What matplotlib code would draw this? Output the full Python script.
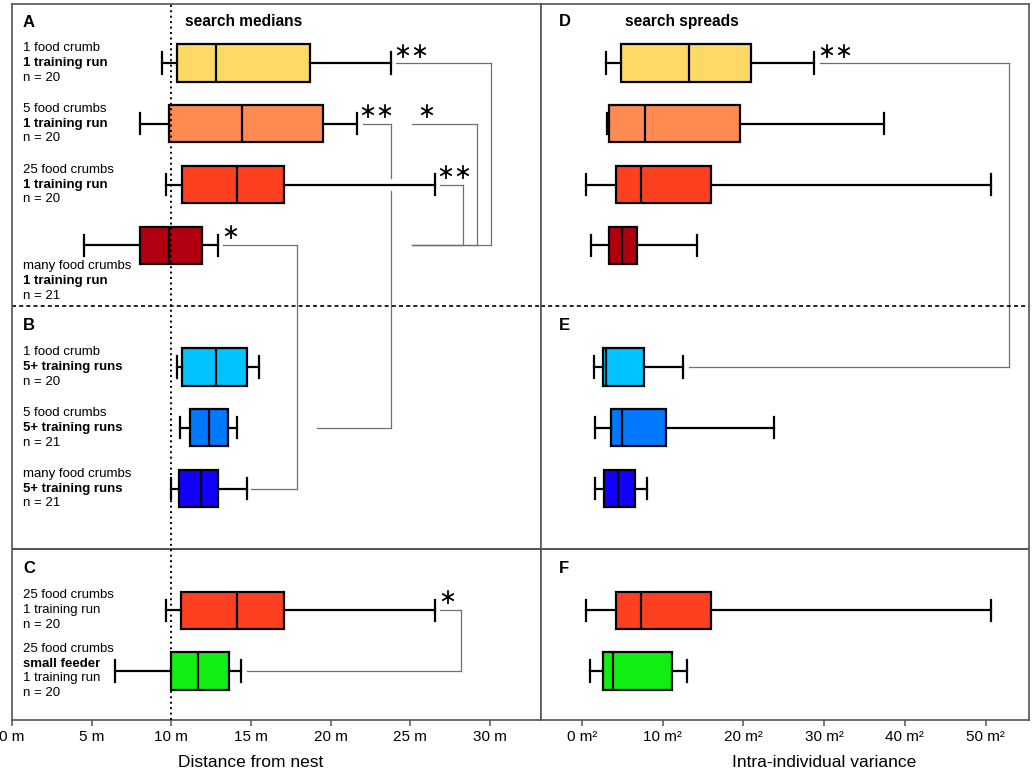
import matplotlib
matplotlib.use("Agg")
import matplotlib.pyplot as plt
import matplotlib.transforms as mtransforms

plt.rcParams['font.family'] = ['Liberation Sans', 'DejaVu Sans']

# 每一行的位置（A: 0-3, B: 5-7, C: 9-10）
rows = [0, 1, 2, 3, 5, 6, 7, 9, 10]
colors = ["#FFD966", "#FF8B52", "#FF4020", "#B00010",
          "#00C3FF", "#0078FF", "#1100FF", "#FF4020", "#11EE11"]

row_text = [
    ["1 food crumb", "1 training run", "n = 20"],
    ["5 food crumbs", "1 training run", "n = 20"],
    ["25 food crumbs", "1 training run", "n = 20"],
    ["many food crumbs", "1 training run", "n = 21"],
    ["1 food crumb", "5+ training runs", "n = 20"],
    ["5 food crumbs", "5+ training runs", "n = 21"],
    ["many food crumbs", "5+ training runs", "n = 21"],
    ["25 food crumbs", "1 training run", "n = 20"],
    ["25 food crumbs", "small feeder", "1 training run", "n = 20"],
]
row_bold = [[0, 1, 0]] * 7 + [[0, 0, 0], [0, 1, 0, 0]]
label_rows = [0, 1, 2, 3.585, 5, 6, 7, 9, 10]

# search medians (m)
dist_whislo = [9.41, 8.04, 9.64, 4.52, 10.35, 10.52, 9.95, 9.64, 6.47]
dist_q1 = [10.37, 9.85, 10.64, 8.04, 10.67, 11.15, 10.48, 10.62, 9.99]
dist_med = [12.81, 14.45, 14.15, 9.87, 12.83, 12.34, 11.88, 14.13, 11.65]
dist_q3 = [18.7, 19.5, 17.09, 11.95, 14.72, 13.56, 12.93, 17.09, 13.63]
dist_whishi = [23.79, 21.64, 26.56, 12.91, 15.51, 14.09, 14.72, 26.56, 14.38]

# search spreads (m²)
var_whislo = [3.05, 3.09, 0.49, 1.11, 1.48, 1.61, 1.69, 0.49, 1.03]
var_q1 = [4.86, 3.42, 4.24, 3.38, 2.64, 3.67, 2.72, 4.28, 2.64]
var_med = [13.32, 7.83, 7.3, 4.99, 3.01, 5.03, 4.53, 7.3, 3.87]
var_q3 = [20.99, 19.55, 16.0, 6.88, 7.67, 10.4, 6.64, 16.0, 11.21]
var_whishi = [28.75, 37.38, 50.7, 14.23, 12.58, 23.8, 8.08, 50.7, 13.03]

# 显著性连线: (x 起点, 起始行, x 拐点, 结束行, x 终点)
brackets_left = [
    (24.1, 0, 30.08, 3, 25.09),
    (25.09, 1, 29.2, 3, 25.09),
    (26.89, 2, 28.3, 3, 25.09),
    (22.0, 1, 23.79, 6, 19.17),
    (13.25, 3, 17.87, 7, 15.01),
    (26.89, 9, 28.19, 10, 14.72),
]
brackets_right = [(29.49, 0, 52.92, 5, 13.24)]
stars_left = [("∗∗", 25.05, -0.18), ("∗∗", 22.85, 0.81), ("∗", 26.0, 0.81),
              ("∗∗", 27.75, 1.81), ("∗", 13.68, 2.80), ("∗", 27.3, 8.8)]
stars_right = [("∗∗", 31.4, -0.18)]

dist_ticks = [0, 5, 10, 15, 20, 25, 30]
var_ticks = [0, 10, 20, 30, 40, 50]

W, H = 1034, 771
fig = plt.figure(figsize=(W / 100, H / 100), dpi=100)
ax_l = fig.add_axes([12 / W, (H - 720) / H, 529 / W, 716 / H])
ax_r = fig.add_axes([541 / W, (H - 720) / H, 488 / W, 716 / H])

spine_c = "#555555"
gray = "#707070"


def draw_boxes(ax, lo, q1, med, q3, hi):
    stats = [dict(med=m, q1=a, q3=b, whislo=l, whishi=h, fliers=[])
             for l, a, m, b, h in zip(lo, q1, med, q3, hi)]
    bp = ax.bxp(stats, positions=rows, widths=0.61, orientation='horizontal',
                patch_artist=True, showfliers=False, manage_ticks=False,
                capwidths=0.35,
                boxprops=dict(edgecolor='black', linewidth=1.6),
                medianprops=dict(color='black', linewidth=1.6),
                whiskerprops=dict(color='black', linewidth=1.6),
                capprops=dict(color='black', linewidth=1.6))
    for patch, c in zip(bp['boxes'], colors):
        patch.set_facecolor(c)


def draw_bracket(ax, x0, r0, xm, r1, x1, gap=None):
    ax.plot([x0, xm], [r0, r0], color=gray, lw=0.9)
    if gap is None:
        ax.plot([xm, xm], [r0, r1], color=gray, lw=0.9)
    else:
        ax.plot([xm, xm], [r0, gap[0]], color=gray, lw=0.9)
        ax.plot([xm, xm], [gap[1], r1], color=gray, lw=0.9)
    ax.plot([xm, x1], [r1, r1], color=gray, lw=0.9)


draw_boxes(ax_l, dist_whislo, dist_q1, dist_med, dist_q3, dist_whishi)
draw_boxes(ax_r, var_whislo, var_q1, var_med, var_q3, var_whishi)

for i, b in enumerate(brackets_left):
    draw_bracket(ax_l, *b, gap=(1.89, 2.11) if i == 3 else None)
for b in brackets_right:
    draw_bracket(ax_r, *b)
for s, x, y in stars_left:
    ax_l.text(x, y, s, ha='center', va='center', fontsize=15.5, family='DejaVu Sans')
for s, x, y in stars_right:
    ax_r.text(x, y, s, ha='center', va='center', fontsize=15.5, family='DejaVu Sans')

# 10 m 参考线
ax_l.axvline(10, color='black', lw=1.4, linestyle=(0, (1, 1.8)), zorder=5)

for ax in (ax_l, ax_r):
    ax.set_ylim(10.806, -0.970)
    ax.axhline(4.0, color='black', lw=1.2, linestyle=(0, (2.4, 1.9)))
    ax.axhline(8.0, color="#444444", lw=1.3)
    ax.set_yticks([])
    for sp in ax.spines.values():
        sp.set_color(spine_c)
        sp.set_linewidth(1.2)
    ax.tick_params(axis='x', direction='out', length=4.5, width=1.1,
                   color=spine_c, labelsize=11, pad=3)

ax_l.set_xlim(0, 33.2)
ax_l.set_xticks(dist_ticks)
ax_l.set_xticklabels([f"{t} m" for t in dist_ticks])
ax_r.set_xlim(-5.04, 55.36)
ax_r.set_xticks(var_ticks)
ax_r.set_xticklabels([f"{t} m²" for t in var_ticks])

ax_l.text(15, -0.0587, "Distance from nest", transform=ax_l.get_xaxis_transform(),
          ha='center', va='center', fontsize=12.5)
ax_r.text(30, -0.0587, "Intra-individual variance", transform=ax_r.get_xaxis_transform(),
          ha='center', va='center', fontsize=12.5)

# 行标签
tr_l = mtransforms.blended_transform_factory(ax_l.transAxes, ax_l.transData)
for lines, bold, yc in zip(row_text, row_bold, label_rows):
    n = len(lines)
    for k, (t, b) in enumerate(zip(lines, bold)):
        y = yc + (k - (n - 1) / 2) * 0.242
        ax_l.text(0.0208, y, t, transform=tr_l, ha='left', va='center',
                  fontsize=9.5, fontweight='bold' if b else 'normal')

# 面板字母和标题
for letter, y in zip("ABC", [-0.658, 4.31, 8.31]):
    ax_l.text(0.0208, y, letter, transform=tr_l, ha='left', va='center',
              fontsize=12, fontweight='bold')
tr_r = mtransforms.blended_transform_factory(ax_r.transAxes, ax_r.transData)
for letter, y in zip("DEF", [-0.674, 4.31, 8.32]):
    ax_r.text(0.0369, y, letter, transform=tr_r, ha='left', va='center',
              fontsize=12, fontweight='bold')
ax_l.text(10.86, -0.674, "search medians", ha='left', va='center',
          fontsize=11.2, fontweight='bold')
ax_r.text(5.36, -0.674, "search spreads", ha='left', va='center',
          fontsize=11.2, fontweight='bold')

fig.savefig("out.png", dpi=100)
